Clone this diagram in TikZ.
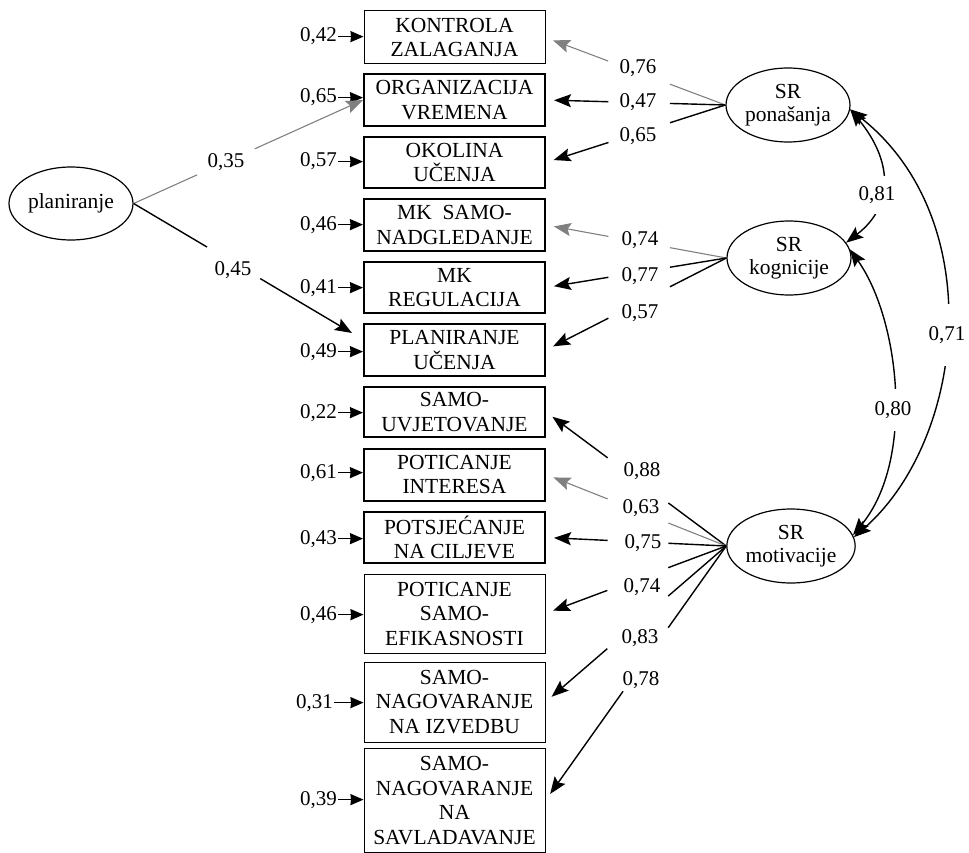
\documentclass[tikz,border=0pt]{standalone}
\usepackage{fontspec}
\setmainfont{Liberation Serif}
\usetikzlibrary{arrows.meta,shapes.geometric,calc}
\newcommand\sredge[5]{%
  \draw[l#5] (#1) -- ($(#1)!#3!(#2)$);
  \draw[l#5,tip#5] ($(#1)!#4!(#2)$) -- (#2);}
\newcommand\resid[4]{%
  \node[res] (#1) at (#2) {#3};
  \draw[rarr] (#1.east) -- (#1.east -| #4.west);}
\begin{document}
\begin{tikzpicture}[x=1pt,y=-1pt,
  every node/.style={font=\fontsize{21}{24.5}\selectfont},
  box/.style={draw, rectangle, minimum width=181pt, align=center, inner sep=0pt, line width=2pt, font=\fontsize{21.5}{24.5}\selectfont},
  thinbox/.style={box, line width=1pt},
  lat/.style={draw, ellipse, minimum width=124pt, minimum height=74pt, inner sep=0pt, align=center, line width=1.2pt, font=\fontsize{21.5}{23}\selectfont},
  num/.style={inner sep=0pt, anchor=base},
  res/.style={inner sep=0pt, anchor=base east},
  rarr/.style={line width=1.5pt, shorten <=1pt, -{Stealth[length=13pt,width=11pt,inset=0.5pt]}},
  ld/.style={line width=1.4pt, draw=black},
  lg/.style={line width=1.1pt, draw=black!50},
  tipd/.style={-{Stealth[length=17pt,width=13pt,inset=3pt]}, shorten >=8pt},
  tipg/.style={-{Stealth[length=17pt,width=13pt,inset=3pt]}, shorten >=8pt},
  cur/.style={line width=1.4pt, {Stealth[length=17pt,width=13pt,inset=3pt]}-{Stealth[length=17pt,width=13pt,inset=3pt]}},
  clab/.style={fill=white, inner xsep=2pt, inner ysep=#1},
  clab/.default=12pt
]
\useasboundingbox (0,0) rectangle (969,853);

% indicator boxes
\node[thinbox, minimum height=53pt] (b1) at (454.5,37.5) {KONTROLA\\ZALAGANJA};
\node[box, minimum height=52pt] (b2) at (454.5,100) {ORGANIZACIJA\\VREMENA};
\node[box, minimum height=51pt] (b3) at (454.5,162.5) {OKOLINA\\UČENJA};
\node[box, minimum height=52pt] (b4) at (454.5,225) {MK\ \ SAMO-\\NADGLEDANJE};
\node[box, minimum height=51pt] (b5) at (454.5,287.5) {MK\\REGULACIJA};
\node[box, minimum height=52pt] (b6) at (454.5,350) {PLANIRANJE\\UČENJA};
\node[box, minimum height=50pt] (b7) at (454.5,412) {SAMO-\\UVJETOVANJE};
\node[box, minimum height=52pt] (b8) at (454.5,474.5) {POTICANJE\\INTERESA};
\node[box, minimum height=51pt] (b9) at (454.5,537.5) {POTSJEĆANJE\\NA CILJEVE};
\node[thinbox, minimum height=79pt] (b10) at (454.5,613.5) {POTICANJE\\SAMO-\\EFIKASNOSTI};
\node[thinbox, minimum height=80pt] (b11) at (454.5,702) {SAMO-\\NAGOVARANJE\\NA IZVEDBU};
\node[thinbox, minimum height=104pt] (b12) at (454.5,800.5) {SAMO-\\NAGOVARANJE\\NA\\SAVLADAVANJE};

% latent variables
\node[lat, minimum height=73pt] (pl) at (71,203.5) {planiranje};
\node[lat] (sp) at (788,105) {SR\\ponašanja};
\node[lat] (sk) at (789,258) {SR\\kognicije};
\node[lat] (sm) at (791,546) {SR\\motivacije};

% residuals
\resid{r1}{337,42}{0,42}{b1}
\resid{r2}{337,103}{0,65}{b2}
\resid{r3}{337,167}{0,57}{b3}
\resid{r4}{337,230}{0,46}{b4}
\resid{r5}{337,293}{0,41}{b5}
\resid{r6}{337,357}{0,49}{b6}
\resid{r7}{337,418}{0,22}{b7}
\resid{r8}{337,478}{0,61}{b8}
\resid{r9}{337,544}{0,43}{b9}
\resid{r10}{337,620}{0,46}{b10}
\resid{r11}{333,708}{0,31}{b11}
\resid{r12}{337,805}{0,39}{b12}

% planiranje loadings
\coordinate (t6) at ([xshift=-11pt,yshift=-10pt]b6.north west);
\draw[lg] (pl.east) -- ($(pl.east)!0.277!(b2.west)$);
\draw[lg,tipg,shorten >=0pt] ($(pl.east)!0.528!(b2.west)$) -- (b2.west);
\draw[ld] (pl.east) -- ($(pl.east)!0.336!(t6)$);
\draw[ld,tipd,shorten >=0pt] ($(pl.east)!0.58!(t6)$) -- (t6);
\node[num] (l35) at (226,168) {0,35};
\node[num] (l45) at (233,275) {0,45};

% SR ponasanja loadings
\sredge{sp.west}{b1.east}{0.309}{0.652}{g}
\sredge{sp.west}{b2.east}{0.309}{0.652}{d}
\sredge{sp.west}{b3.east}{0.309}{0.652}{d}
\node[num] (l76) at (638,74) {0,76};
\node[num] (l47) at (638,108) {0,47};
\node[num] (l65) at (638,142) {0,65};

% SR kognicije loadings
\sredge{sk.west}{b4.east}{0.313}{0.654}{g}
\sredge{sk.west}{b5.east}{0.313}{0.654}{d}
\sredge{sk.west}{b6.east}{0.313}{0.654}{d}
\node[num] (l74a) at (640,245) {0,74};
\node[num] (l77) at (640,281) {0,77};
\node[num] (l57) at (640,318) {0,57};

% SR motivacije loadings
\sredge{sm.west}{b7.east}{0.321}{0.658}{d}
\sredge{sm.west}{b8.east}{0.321}{0.658}{g}
\sredge{sm.west}{b9.east}{0.321}{0.658}{d}
\sredge{sm.west}{b10.east}{0.321}{0.658}{d}
\sredge{sm.west}{b11.east}{0.321}{0.658}{d}
\sredge{sm.west}{b12.east}{0.321}{0.571}{d}
\node[num] (l88) at (642,476) {0,88};
\node[num] (l63) at (641,513) {0,63};
\node[num] (l75) at (643,548) {0,75};
\node[num] (l74b) at (642,592) {0,74};
\node[num] (l83) at (640,643) {0,83};
\node[num] (l78) at (641,685) {0,78};

% correlations
\draw[cur] (sp.-4) .. controls (892,160) and (895,205) .. (sk.15);
\draw[cur] (sk.8) .. controls (900,320) and (915,460) .. (sm.10);
\draw[cur] (sp.-4) .. controls (990,220) and (965,440) .. (sm.8);
\node[clab=10pt] (l81) at (877,195) {0,81};
\node[clab=12pt] (l80) at (893,410) {0,80};
\node[clab=22pt] (l71) at (947,335) {0,71};
\end{tikzpicture}
\end{document}
